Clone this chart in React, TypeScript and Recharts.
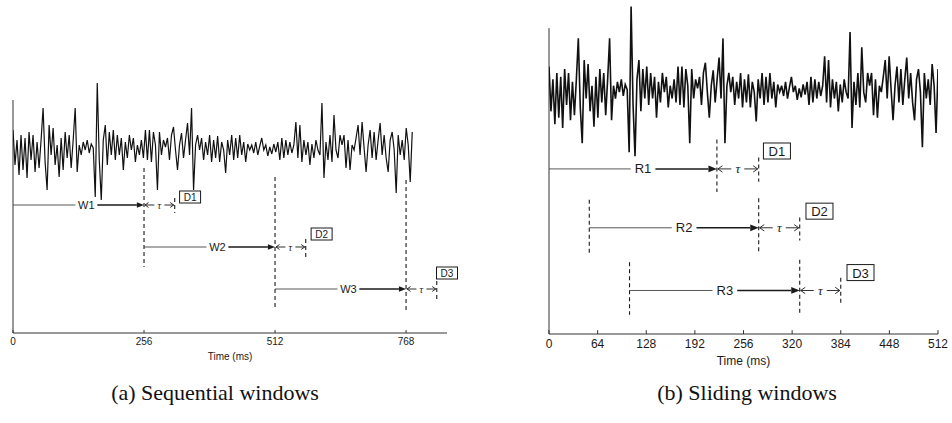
import React from "react";
import { ComposedChart, Line, XAxis, YAxis, ReferenceLine, ReferenceDot } from "recharts";

// same recorded trace is shown in both panels (amplitude, arbitrary units)
const signal = [
  20, -15, 10, -25, 15, -20, 12, -28, 18, -10,
  15, -22, 8, -18, 10, 42, -12, -40, 25, -5,
  22, -15, 5, -27, 12, -20, 18, -8, 15, -18,
  10, 42, -22, 5, -5, 8, 0, 10, -3, 6,
  2, -47, 67, -10, -50, 10, 25, -15, 18, -5,
  20, -10, 15, -5, 12, -20, 8, -8, 15, 0,
  12, -12, 5, -5, 10, -8, 20, -10, 20, -12,
  18, 5, -40, 18, -5, 10, 3, 12, -10, 15,
  23, 0, -20, 5, 17, -8, 10, 27, -5, 42,
  -40, 5, 15, 0, 12, -10, 8, -5, 15, -12,
  10, -8, 14, -12, 8, 0, -23, 10, -5, 15,
  -10, 12, -8, 15, -5, 8, -12, 6, 0, 5,
  -3, 8, -5, 4, 12, 0, 5, -6, 3, -4,
  6, -2, 8, -10, 12, -8, 10, -5, 8, -3,
  5, 28, -8, 25, -12, 10, -5, 8, -15, 6,
  -8, 10, 0, -5, 47, -28, 8, -10, 15, -12,
  35, 0, -8, 15, 5, 15, -18, 10, -20, 5,
  0, 12, 25, -5, 28, 2, -22, 5, 20, -8,
  18, -10, 10, 27, -5, 15, -8, -22, 10, 18,
  0, -43, 15, -5, 10, -10, 22, 5, -32, 18,
];

// sampling interval (ms) of the trace as drawn in each panel
const SAMPLE_MS_A = 3.92;
const SAMPLE_MS_B = 2.573;

// (a) sequential windows
const ticksA = [0, 256, 512, 768];
const seqNames = ["W1", "W2", "W3"];
const seqStarts = [0, 256, 512];
const seqEnds = [256, 512, 768];
const seqTauEnds = [316, 572, 828];
const seqLevels = [-55, -97, -139];
const seqDashX = [256, 512, 768, 316, 572, 828];
const seqDashTop = [-18, -27, -30, -48, -89, -131];
const seqDashBottom = [-117, -158, -160, -63, -108, -150];
const seqBoxNames = ["D1", "D2", "D3"];
const seqBoxX = [346, 603, 848];
const seqBoxY = [-47, -84, -123];

// (b) sliding windows
const ticksB = [0, 64, 128, 192, 256, 320, 384, 448, 512];
const slideNames = ["R1", "R2", "R3"];
const slideStarts = [0, 53, 106];
const slideEnds = [221, 276, 330];
const slideTauEnds = [276, 330, 384];
const slideLevels = [-60, -106, -155];
const slideDashX = [221, 276, 330, 53, 106, 276, 330, 384];
const slideDashTop = [-37, -83, -131, -84, -133, -51, -98, -145];
const slideDashBottom = [-78, -126, -174, -126, -174, -70, -116, -165];
const slideBoxNames = ["D1", "D2", "D3"];
const slideBoxX = [300, 356, 410];
const slideBoxY = [-46, -93, -141];

const INK = "#1a1a1a";

function windowShape(name: string, fs: number) {
  return (p: any) => {
    const { x1, y1, x2 } = p;
    const lx = x1 + (x2 - x1) * 0.56;
    const half = name.length * fs * 0.36 + 3;
    const ah = fs * 0.65;
    return (
      <g>
        <line x1={x1} y1={y1} x2={lx - half} y2={y1} stroke="#444" strokeWidth={0.9} />
        <line x1={lx + half} y1={y1} x2={x2 - ah} y2={y1} stroke={INK} strokeWidth={1.5} />
        <polygon
          points={`${x2},${y1} ${x2 - ah},${y1 - ah * 0.4} ${x2 - ah},${y1 + ah * 0.4}`}
          fill={INK}
        />
        <text x={lx} y={y1} textAnchor="middle" dominantBaseline="central" fontSize={fs} fill={INK}>
          {name}
        </text>
      </g>
    );
  };
}

function tauShape(fs: number) {
  return (p: any) => {
    const { x1, y1, x2 } = p;
    const mx = (x1 + x2) / 2;
    const gap = fs * 0.5;
    const a = fs * 0.35;
    return (
      <g stroke={INK} strokeWidth={0.9} fill="none">
        <line x1={x1 + 1} y1={y1} x2={mx - gap} y2={y1} />
        <line x1={mx + gap} y1={y1} x2={x2 - 1} y2={y1} />
        <polyline points={`${x1 + 1 + a},${y1 - a * 0.7} ${x1 + 1},${y1} ${x1 + 1 + a},${y1 + a * 0.7}`} />
        <polyline points={`${x2 - 1 - a},${y1 - a * 0.7} ${x2 - 1},${y1} ${x2 - 1 - a},${y1 + a * 0.7}`} />
        <text
          x={mx}
          y={y1}
          textAnchor="middle"
          dominantBaseline="central"
          fontSize={fs}
          fontStyle="italic"
          fontFamily="'Liberation Serif', serif"
          fill={INK}
          stroke="none"
        >
          τ
        </text>
      </g>
    );
  };
}

function boxShape(name: string, fs: number, w: number, h: number) {
  return (p: any) => (
    <g>
      <rect x={p.cx - w / 2} y={p.cy - h / 2} width={w} height={h} fill="#fff" stroke={INK} strokeWidth={1} />
      <text x={p.cx} y={p.cy + 0.5} textAnchor="middle" dominantBaseline="central" fontSize={fs} fill={INK}>
        {name}
      </text>
    </g>
  );
}

interface PanelProps {
  width: number;
  height: number;
  margin: { top: number; right: number; bottom: number; left: number };
  sampleMs: number;
  xMax: number;
  yDomain: [number, number];
  axisTop: number;
  ticks: number[];
  tickFont: number;
  axisHeight: number;
  names: string[];
  starts: number[];
  ends: number[];
  tauEnds: number[];
  levels: number[];
  dashX: number[];
  dashTop: number[];
  dashBottom: number[];
  boxNames: string[];
  boxX: number[];
  boxY: number[];
  labelFont: number;
  boxFont: number;
  boxW: number;
  boxH: number;
  tauFont: number;
  lineWidth: number;
  tickMarkLen: number;
}

function Panel(p: PanelProps) {
  const data = signal.map((v, i) => ({ t: i * p.sampleMs, v }));
  const yMin = p.yDomain[0];
  return (
    <ComposedChart width={p.width} height={p.height} data={data} margin={p.margin}>
      <XAxis
        type="number"
        dataKey="t"
        domain={[0, p.xMax]}
        ticks={p.ticks}
        interval={0}
        allowDataOverflow
        height={p.axisHeight}
        tickLine={false}
        tickSize={4}
        tickMargin={1}
        axisLine={{ stroke: "#333", strokeWidth: 1 }}
        tick={{ fontSize: p.tickFont, fill: INK }}
        label={{ value: "Time (ms)", position: "insideBottom", offset: 3, fontSize: p.tickFont, fill: INK }}
      />
      <YAxis hide type="number" domain={p.yDomain} allowDataOverflow />
      <ReferenceLine
        segment={[{ x: 0, y: p.axisTop }, { x: 0, y: yMin }]}
        stroke="#333"
        strokeWidth={1}
        ifOverflow="visible"
      />
      {p.ticks.map((t) => (
        <ReferenceLine
          key={"tk" + t}
          segment={[{ x: t, y: yMin }, { x: t, y: yMin + p.tickMarkLen }]}
          stroke="#333"
          strokeWidth={1}
          ifOverflow="visible"
        />
      ))}
      <Line
        type="linear"
        dataKey="v"
        stroke="#111"
        strokeWidth={p.lineWidth}
        dot={false}
        activeDot={false}
        isAnimationActive={false}
      />
      {p.dashX.map((x, i) => (
        <ReferenceLine
          key={"d" + i}
          segment={[{ x, y: p.dashTop[i] }, { x, y: p.dashBottom[i] }]}
          stroke={INK}
          strokeWidth={1.1}
          strokeDasharray="4 3"
          ifOverflow="visible"
        />
      ))}
      {p.names.map((n, i) => (
        <ReferenceLine
          key={"w" + n}
          segment={[{ x: p.starts[i], y: p.levels[i] }, { x: p.ends[i], y: p.levels[i] }]}
          ifOverflow="visible"
          shape={windowShape(n, p.labelFont)}
        />
      ))}
      {p.names.map((n, i) => (
        <ReferenceLine
          key={"tau" + n}
          segment={[{ x: p.ends[i], y: p.levels[i] }, { x: p.tauEnds[i], y: p.levels[i] }]}
          ifOverflow="visible"
          shape={tauShape(p.tauFont)}
        />
      ))}
      {p.boxNames.map((n, i) => (
        <ReferenceDot
          key={"b" + i}
          x={p.boxX[i]}
          y={p.boxY[i]}
          r={0}
          ifOverflow="visible"
          shape={boxShape(n, p.boxFont, p.boxW, p.boxH)}
        />
      ))}
    </ComposedChart>
  );
}

const captionStyle: React.CSSProperties = {
  position: "absolute",
  width: 400,
  top: 381,
  textAlign: "center",
  fontFamily: "'Liberation Serif', serif",
  fontSize: 22,
  lineHeight: "24px",
  color: "#111",
};

export default function App() {
  return (
    <div
      style={{
        position: "absolute",
        left: 0,
        top: 0,
        width: 952,
        height: 423,
        background: "#fff",
        fontFamily: "'Liberation Sans', Arial, sans-serif",
        overflow: "hidden",
      }}
    >
      <div style={{ position: "absolute", left: 0, top: 0 }}>
        <Panel
          width={470}
          height={370}
          margin={{ top: 60, right: 23, bottom: 7, left: 13 }}
          sampleMs={SAMPLE_MS_A}
          xMax={848}
          yDomain={[-183, 90]}
          axisTop={50}
          ticks={ticksA}
          tickFont={10}
          axisHeight={30}
          names={seqNames}
          starts={seqStarts}
          ends={seqEnds}
          tauEnds={seqTauEnds}
          levels={seqLevels}
          dashX={seqDashX}
          dashTop={seqDashTop}
          dashBottom={seqDashBottom}
          boxNames={seqBoxNames}
          boxX={seqBoxX}
          boxY={seqBoxY}
          labelFont={11}
          boxFont={10}
          boxW={21}
          boxH={12}
          tauFont={10}
          lineWidth={1.2}
          tickMarkLen={3}
        />
      </div>
      <div style={{ position: "absolute", left: 500, top: 0 }}>
        <Panel
          width={452}
          height={380}
          margin={{ top: 0, right: 14, bottom: 12, left: 49 }}
          sampleMs={SAMPLE_MS_B}
          xMax={512}
          yDomain={[-189, 72]}
          axisTop={50}
          ticks={ticksB}
          tickFont={12}
          axisHeight={34}
          names={slideNames}
          starts={slideStarts}
          ends={slideEnds}
          tauEnds={slideTauEnds}
          levels={slideLevels}
          dashX={slideDashX}
          dashTop={slideDashTop}
          dashBottom={slideDashBottom}
          boxNames={slideBoxNames}
          boxX={slideBoxX}
          boxY={slideBoxY}
          labelFont={13}
          boxFont={13}
          boxW={27}
          boxH={16}
          tauFont={13}
          lineWidth={1.6}
          tickMarkLen={3}
        />
      </div>
      <div style={{ ...captionStyle, left: 15 }}>(a) Sequential windows</div>
      <div style={{ ...captionStyle, left: 547 }}>(b) Sliding windows</div>
    </div>
  );
}
